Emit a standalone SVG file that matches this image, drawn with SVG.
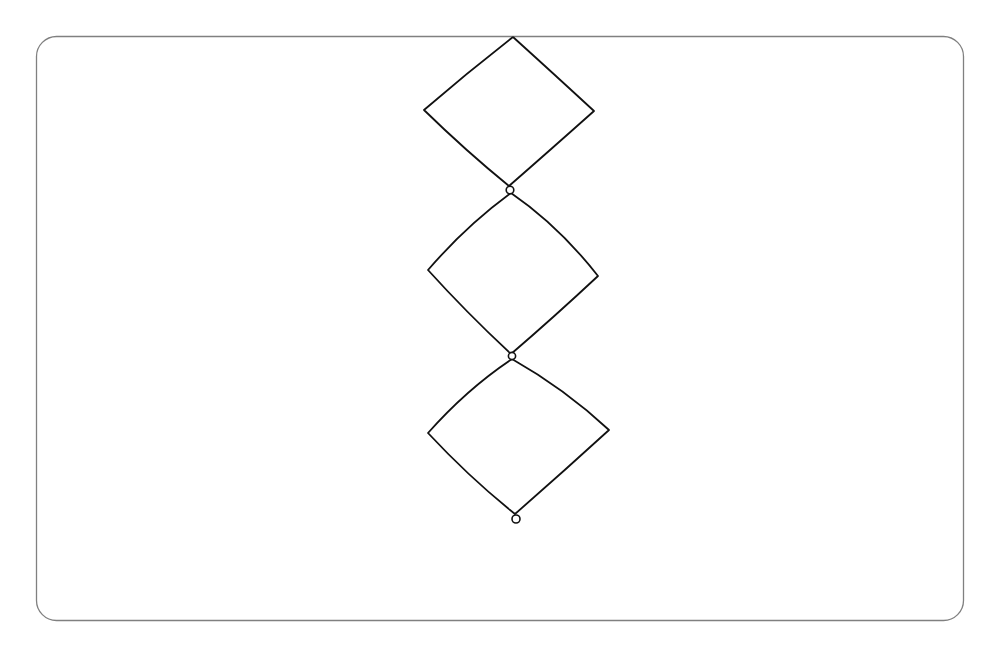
<svg xmlns="http://www.w3.org/2000/svg" width="1000" height="653" viewBox="0 0 1000 653">
<style>
.frame{fill:#fff;stroke:#808080;stroke-width:1.3}
.d{fill:none;stroke:#111;stroke-width:1.8;stroke-linejoin:round}
.j{fill:#fff;stroke:#111;stroke-width:1.6}
</style>
<rect width="1000" height="653" fill="#fff"/>
<rect class="frame" x="36.5" y="36.5" width="927" height="584" rx="20"/>
<g id="node1">
<path class="d" d="M513,37 Q468,72 424,110 Q466,151 509,186 Q548,152 594,111 Q555,75 513,37"/>
</g>
<g id="node2">
<path class="d" d="M511,193 Q466,226 428,270 Q466,312 511,354 Q553,318 598,276 Q559,226 511,193"/>
</g>
<g id="node3">
<path class="d" d="M512,359 Q467,389 428,433 Q470,478 515,514 Q563,472 609,430 Q565,389 512,359"/>
</g>
<g id="connectors">
<circle class="j" cx="510" cy="190" r="3.8"/>
<circle class="j" cx="512" cy="356" r="3.6"/>
<circle class="j" cx="516" cy="519" r="4"/>
</g>
</svg>
